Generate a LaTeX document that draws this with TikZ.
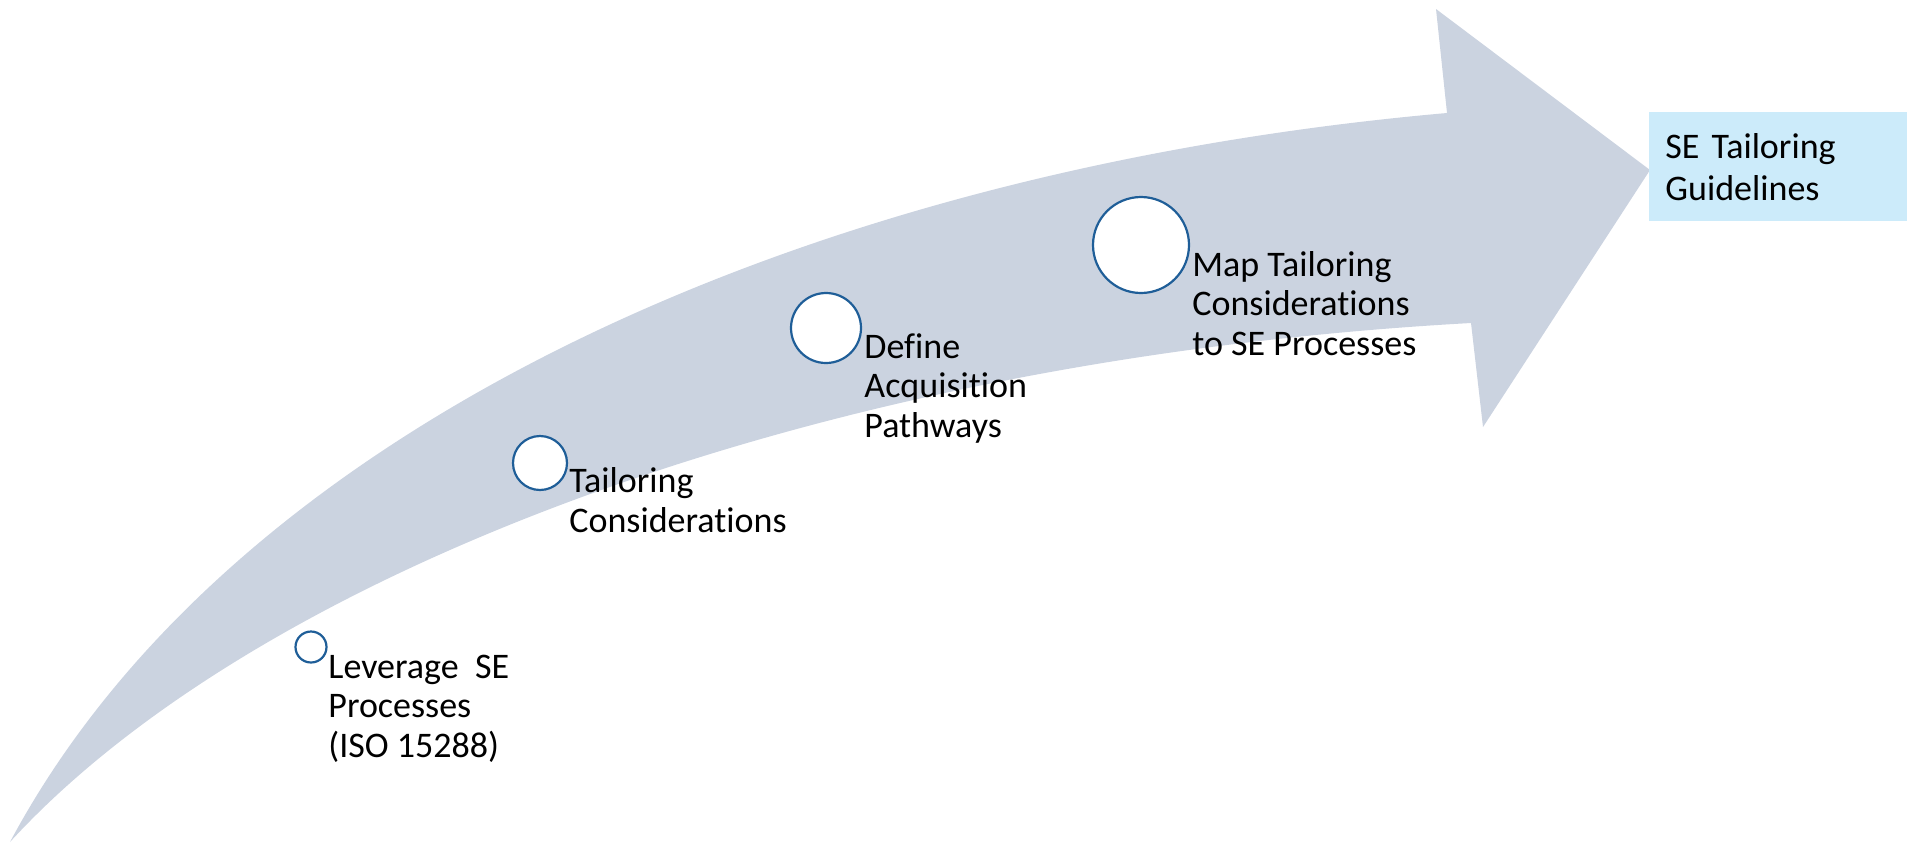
\documentclass[tikz,border=0pt]{standalone}
\usepackage{fontspec}
\setmainfont{Carlito}[Ligatures=NoCommon]
\usetikzlibrary{positioning}
\definecolor{shaftgray}{RGB}{203,211,224}
\definecolor{ringblue}{RGB}{31,94,152}
\definecolor{goalblue}{RGB}{204,235,250}

\tikzset{
  stage/.style={circle, draw=ringblue, line width=1.1pt, fill=white, inner sep=0pt},
  stagelabel/.style={anchor=base west, align=left, inner sep=0pt, font=\fontsize{18}{19.75}\selectfont},
  goal/.style={fill=goalblue, anchor=north west, text width=113pt, inner xsep=8pt, minimum height=54.5pt, align=left, font=\fontsize{18}{21}\selectfont}
}

\begin{document}
\begin{tikzpicture}[x=0.5pt, y=-0.5pt]
\useasboundingbox (0,0) rectangle (1916,842);
% Curved arrow
\fill[shaftgray] (10,842) .. controls (230,430) and (800,170) .. (1447,113)
  -- (1436,9) -- (1650,170) -- (1483,427) -- (1471,323)
  .. controls (800,360) and (250,580) .. (10,842) -- cycle;

% Stages along the arrow
\node[stage, minimum size=15.5pt] (lev) at (311,647) {};
\node[stage, minimum size=27pt] (cons) at (540,463) {};
\node[stage, minimum size=35pt] (path) at (826,328) {};
\node[stage, minimum size=48pt] (map) at (1141,245) {};

% Stage labels (placed at the baseline of the last line)
\node[stagelabel] (levtxt) at (328,757) {Leverage\ \ SE\\Processes\\(ISO 15288)};
\node[stagelabel] (constxt) at (569,532) {Tailoring\\Considerations};
\node[stagelabel] (pathtxt) at (864,437) {Define\\Acquisition\\Pathways};
\node[stagelabel] (maptxt) at (1192,355) {Map Tailoring\\Considerations\\to SE Processes};

% Result
\node[goal] (guide) at (1649,112) {SE Tailoring\\Guidelines};
\end{tikzpicture}
\end{document}
